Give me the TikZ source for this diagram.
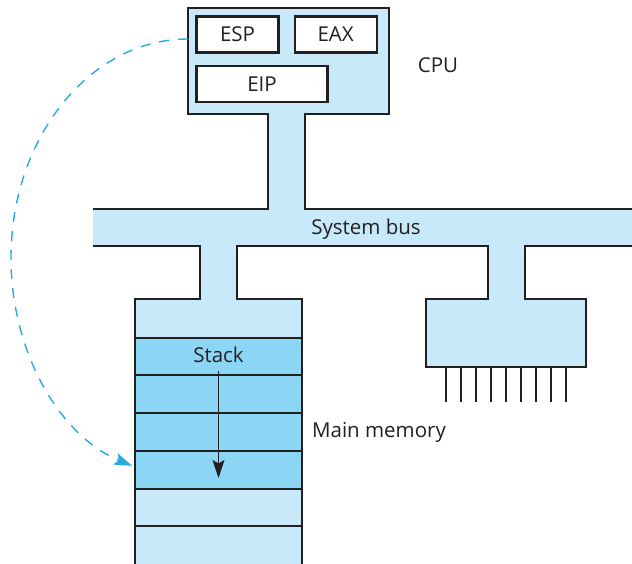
\documentclass[tikz,border=0pt]{standalone}
\usepackage{fontspec}
\setmainfont{Open Sans}
\usetikzlibrary{arrows.meta}
\definecolor{lightfill}{RGB}{199,233,249}
\definecolor{darkfill}{RGB}{140,214,245}
\definecolor{ink}{RGB}{35,31,32}
\definecolor{dashblue}{RGB}{38,170,226}
\begin{document}
\begin{tikzpicture}[x=1pt,y=-1pt,
  outline/.style={draw=ink,line width=2.9pt,line join=miter},
  regbox/.style={draw=ink,fill=white,line width=2.1pt,inner sep=0pt,minimum height=36pt,text=ink,font=\fontsize{20.5}{24}\selectfont},
  lbl/.style={text=ink,font=\fontsize{20.5}{24}\selectfont,inner sep=0pt,anchor=base},
  rowline/.style={draw=ink,line width=2pt},
  pin/.style={draw=ink,line width=1.4pt},
  bigtip/.style={-{Stealth[length=18pt,width=12pt,inset=3.5pt]}},
]
\useasboundingbox (0,0) rectangle (632,563);
\clip (0,0) rectangle (632,563);
% filled body: CPU, bus, memory, device
\fill[lightfill] (188,8) -- (389,8) -- (389,114) -- (305,114) -- (305,209) -- (640,209)
  -- (640,246) -- (525,246) -- (525,299) -- (586,299) -- (586,367) -- (426,367) -- (426,299)
  -- (488,299) -- (488,246) -- (237,246) -- (237,299) -- (302,299) -- (302,570)
  -- (135,570) -- (135,299) -- (200,299) -- (200,246) -- (93,246) -- (93,209)
  -- (268,209) -- (268,114) -- (188,114) -- cycle;
% stack rows
\fill[darkfill] (135,337.5) rectangle (302,488.5);
\foreach \yy in {337.5,375.3,413,450.8,488.5,526.3}
  \draw[rowline] (135,\yy) -- (302,\yy);
% outlines
\draw[outline] (93,209) -- (268,209) -- (268,114) -- (188,114) -- (188,8) -- (389,8)
  -- (389,114) -- (305,114) -- (305,209) -- (640,209);
\draw[outline] (640,246) -- (525,246) -- (525,299) -- (586,299) -- (586,367) -- (426,367)
  -- (426,299) -- (488,299) -- (488,246) -- (237,246) -- (237,299) -- (302,299) -- (302,570);
\draw[outline] (135,570) -- (135,299) -- (200,299) -- (200,246) -- (93,246);
% device pins
\foreach \xx in {446,461,476,491,506,521,536,551,566}
  \draw[pin] (\xx,367) -- (\xx,402);
% registers
\node[regbox,minimum width=82pt] (esp) at (237.5,34.5) {ESP};
\node[regbox,minimum width=82pt] (eax) at (335.7,34.5) {EAX};
\node[regbox,minimum width=131pt] (eip) at (262,83.7) {EIP};
% labels
\node[lbl] (cpu) at (438,72) {CPU};
\node[lbl] (bus) at (366,234) {System bus};
\node[lbl] (mem) at (379,437.5) {Main memory};
\node[lbl] (stack) at (218.5,362.5) {Stack};
% stack growth arrow
\coordinate (stacktop) at (218.5,371);
\coordinate (stackend) at (218.5,478);
\draw[ink,line width=1.4pt,bigtip] (stacktop) -- (stackend);
% ESP points into stack
\coordinate (espout) at (188,39);
\draw[dashblue,line width=1.4pt,dash pattern=on 10pt off 9pt,bigtip]
  (espout) arc[start angle=90,end angle=251.6,x radius=177pt,y radius=219pt];
\end{tikzpicture}
\end{document}
